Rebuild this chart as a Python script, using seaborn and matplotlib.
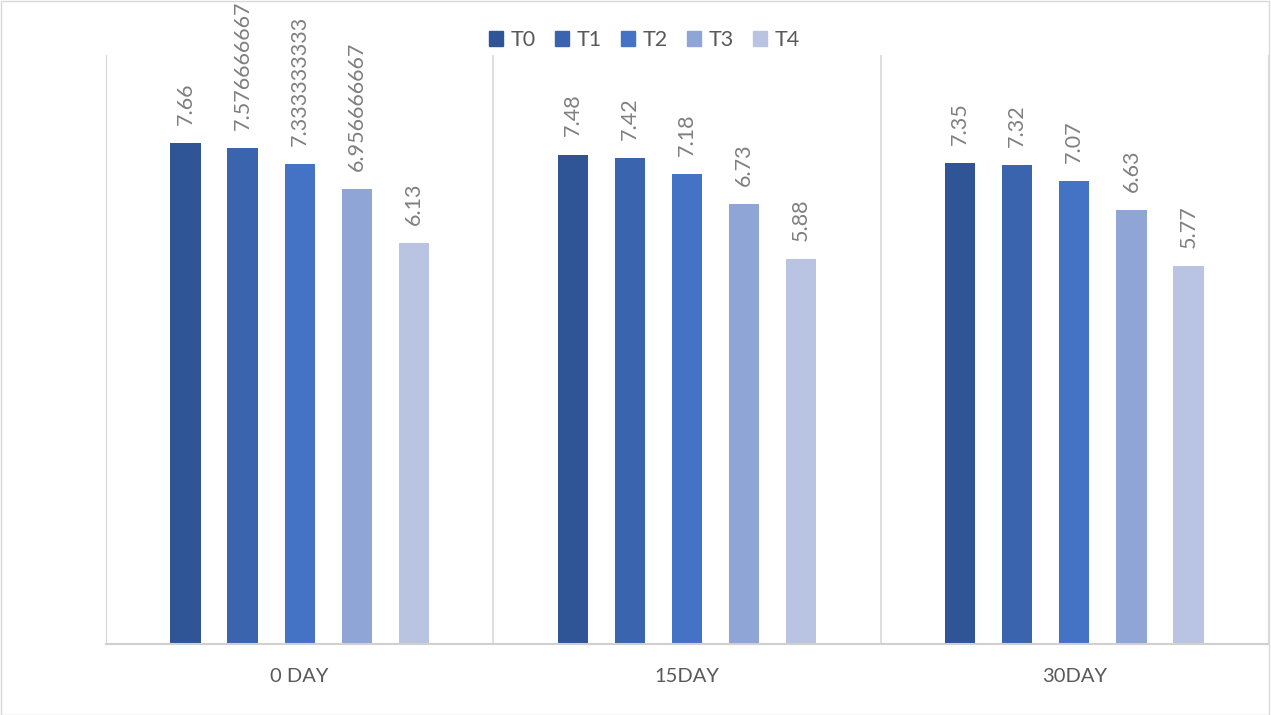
import pandas as pd
import matplotlib.pyplot as plt
import seaborn as sns
from matplotlib.patches import Rectangle

# Data
days = ['0 DAY', '15DAY', '30DAY']
treatments = ['T0', 'T1', 'T2', 'T3', 'T4']
t0 = [7.66, 7.48, 7.35]
t1 = [7.576666667, 7.42, 7.32]
t2 = [7.333333333, 7.18, 7.07]
t3 = [6.956666667, 6.73, 6.63]
t4 = [6.13, 5.88, 5.77]
label_text = {
    'T0': ['7.66', '7.48', '7.35'],
    'T1': ['7.576666667', '7.42', '7.32'],
    'T2': ['7.333333333', '7.18', '7.07'],
    'T3': ['6.956666667', '6.73', '6.63'],
    'T4': ['6.13', '5.88', '5.77'],
}
colors = ['#2f5597', '#3a64ad', '#4472c4', '#8fa5d6', '#b9c4e3']

# Long format for seaborn
rows = []
for name, vals in zip(treatments, [t0, t1, t2, t3, t4]):
    for d, v in zip(days, vals):
        rows.append({'day': d, 'treatment': name, 'value': v})
df = pd.DataFrame(rows)

sns.set_style('white')
plt.rcParams['font.family'] = ['Lato', 'DejaVu Sans']

fig = plt.figure(figsize=(12.71, 7.15), dpi=100)
ax = fig.add_axes([0.0834, 0.0993, 0.9142, 0.8237])

sns.barplot(data=df, x='day', y='value', hue='treatment', order=days,
            hue_order=treatments, palette=colors, width=0.737, gap=0.47,
            saturation=1, ax=ax, legend=False, linewidth=0)

for cont, name in zip(ax.containers, treatments):
    ax.bar_label(cont, labels=label_text[name], rotation=90, padding=13,
                 color='#7f7f7f', fontsize=15.5)

ax.set_ylim(0, 9)
ax.set_xlim(-0.5, 2.5)
ax.set_yticks([])
ax.set_xlabel('')
ax.set_ylabel('')

# category separators like Excel
for x in [0.5, 1.5]:
    ax.axvline(x, color='#d9d9d9', lw=1.2, zorder=0)
ax.spines['top'].set_visible(False)
ax.spines['left'].set_color('#d9d9d9')
ax.spines['right'].set_color('#d9d9d9')
ax.spines['bottom'].set_color('#d0d0d0')
ax.spines['bottom'].set_linewidth(1.5)
ax.tick_params(axis='x', length=0, pad=17, labelsize=14.5, labelcolor='#595959')

handles = [Rectangle((0, 0), 1, 1, color=c) for c in colors]
fig.legend(handles, treatments, loc='center', bbox_to_anchor=(0.507, 0.944),
           ncol=5, frameon=False, fontsize=15.5, labelcolor='#595959',
           handlelength=0.65, handleheight=0.65, handletextpad=0.35,
           columnspacing=0.9)

# light chart-area border
fig.patches.append(Rectangle((0.0005, 0.0005), 0.998, 0.998, transform=fig.transFigure,
                             fill=False, edgecolor='#d9d9d9', lw=1))

fig.savefig('out.png', dpi=100)
